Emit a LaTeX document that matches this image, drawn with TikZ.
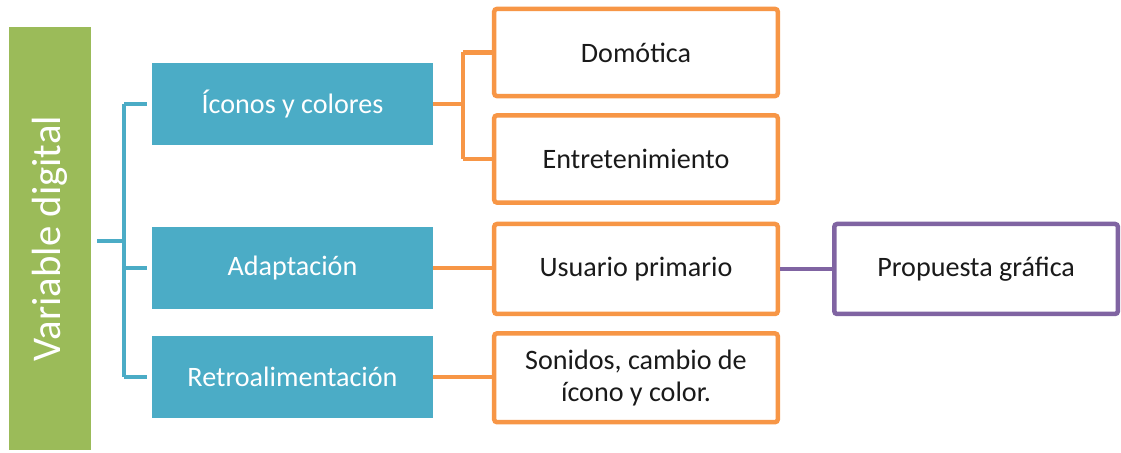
\documentclass[tikz,border=0pt]{standalone}
\usepackage{fontspec}
\setmainfont{Carlito}
\usetikzlibrary{positioning,calc}
\definecolor{cVar}{HTML}{9BBB59}
\definecolor{cMain}{HTML}{4BACC6}
\definecolor{cSub}{HTML}{F79646}
\definecolor{cOut}{HTML}{8064A2}
\definecolor{cText}{HTML}{1A1A1A}

\begin{document}
\begin{tikzpicture}[
  font=\fontsize{20}{23}\selectfont,
  varbox/.style={
    fill=cVar, text=white, rotate=90, inner sep=0pt,
    minimum width=10.575cm, minimum height=2.05cm,
    font=\fontsize{29}{32}\selectfont,
  },
  mainbox/.style={
    fill=cMain, text=white, align=center, inner sep=2pt,
    minimum width=7.025cm, minimum height=2.05cm,
  },
  subbox/.style={
    draw=cSub, line width=3.2pt, rounded corners=2pt, fill=white,
    text=cText, align=center, inner sep=2pt,
    minimum width=7.09cm, minimum height=2.18cm,
  },
  outbox/.style={subbox, draw=cOut},
  mainline/.style={draw=cMain, line width=3.4pt},
  subline/.style={draw=cSub, line width=3.4pt},
  outline/.style={draw=cOut, line width=3.4pt},
]
\useasboundingbox (0,0) rectangle (28.025,11.325);

% --- root bar ---
\node[varbox] (var) at (1.25, 5.3625) {Variable digital};

% --- first level ---
\node[mainbox] (iconos) at (7.3125, 8.725) {Íconos y colores};
\node[mainbox] (adapt)  at (7.3125, 4.625) {Adaptación};
\node[mainbox] (retro)  at (7.3125, 1.9)   {Retroalimentación};

% --- second level ---
\node[subbox] (domo)    at (15.9, 10.0125) {Domótica};
\node[subbox] (entre)   at (15.9, 7.35)    {Entretenimiento};
\node[subbox, minimum height=2.25cm] (usuario) at (15.9, 4.6)
  {Usuario primario};
\node[subbox, minimum height=2.22cm] (sonidos) at (15.9, 1.88)
  {Sonidos, cambio de\\ícono y color.};

% --- outcome ---
\node[outbox, minimum height=2.25cm, right=1.30cm of usuario] (prop)
  {Propuesta gráfica};

% Bracket joints.
\coordinate (tj) at (3.10, 5.30);
\coordinate (oj) at (11.575, 8.725);

% root -> first level
\draw[mainline, shorten <=0.15cm] (var.south |- tj) -- (tj);
\draw[mainline] (tj |- iconos.west) -- (tj |- retro.west);
\draw[mainline, shorten >=0.12cm] (tj |- iconos.west) -- (iconos.west);
\draw[mainline, shorten >=0.12cm] (tj |- adapt.west) -- (adapt.west);
\draw[mainline, shorten >=0.12cm] (tj |- retro.west) -- (retro.west);

% first level -> second level
\draw[subline] (iconos.east) -- (oj);
\draw[subline] (oj |- domo.west) -- (oj |- entre.west);
\draw[subline] (oj |- domo.west) -- (domo.west);
\draw[subline] (oj |- entre.west) -- (entre.west);
\draw[subline] (adapt.east) -- (adapt.east -| usuario.west);
\draw[subline] (retro.east) -- (retro.east -| sonidos.west);

% second level -> outcome
\draw[outline] (usuario.east) -- (prop.west);

\end{tikzpicture}
\end{document}
